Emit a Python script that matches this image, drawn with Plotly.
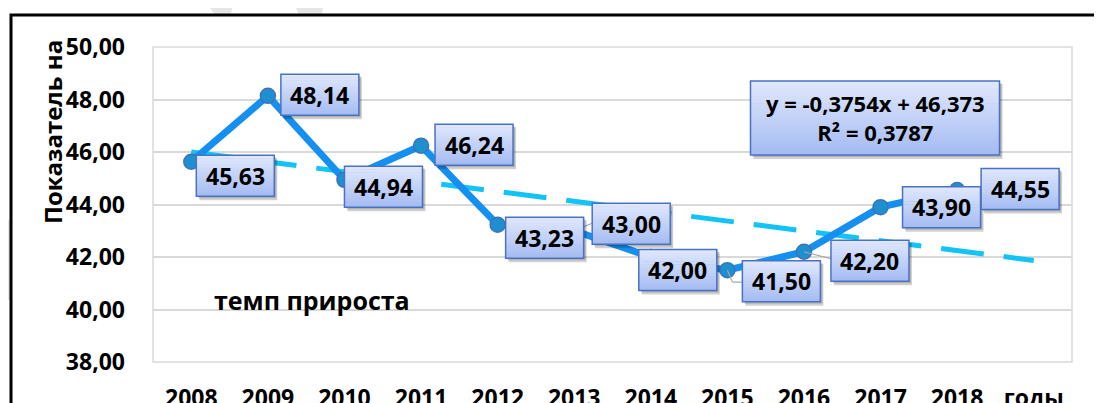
import plotly.graph_objects as go

# ---------------- data ----------------
years = ["2008", "2009", "2010", "2011", "2012", "2013", "2014", "2015", "2016", "2017", "2018"]
extra_category = "годы"
values = [45.63, 48.14, 44.94, 46.24, 43.23, 43.00, 42.00, 41.50, 42.20, 43.90, 44.55]
trend_slope = -0.3754
trend_intercept = 46.373
r_squared = 0.3787
y_ticks = [38, 40, 42, 44, 46, 48, 50]
y_title = "Показатель на"
series_name = "темп прироста"

# ---------------- styles / layout (pixels) ----------------
W, H = 1102, 403
PL, PR, PT, PB = 153, 1072, 47, 362  # plot area in screenshot pixels
BODY = 8  # page body margin added by the html page
FONT = "Open Sans"

# label box centre offsets from their point (dx right, dy down), pixels
label_offsets = [(44, 14), (52, -1), (39, 7), (53, -1), (47, 13), (57, -7),
                 (27, 13), (54, 11), (66, 9), (61, 0), (63, -1)]
BOX_W, BOX_H = 78, 41


def px_x(p):
    return (p - PL) / (PR - PL)


def px_y(p):
    return (PB - p) / (PB - PT)


def fmt(v, n=2):
    return f"{v:.{n}f}".replace(".", ",")


def lerp_col(c1, c2, t):
    return "rgb(%d,%d,%d)" % tuple(round(a + (b - a) * t) for a, b in zip(c1, c2))


TOP_C = (224, 232, 252)
BOT_C = (164, 187, 242)
BORDER_C = "#4a72c4"

categories = years + [extra_category]
trend_x = categories
trend_y = [trend_slope * (i + 1) + trend_intercept for i in range(len(categories))]

fig = go.Figure()

fig.add_trace(go.Scatter(
    x=trend_x, y=trend_y, mode="lines",
    line=dict(color="#12c3f5", width=5, dash="43px,20px"),
    showlegend=False, hoverinfo="skip"))

fig.add_trace(go.Scatter(
    x=years, y=values, mode="lines+markers", name=series_name,
    line=dict(color="#1590f0", width=7),
    marker=dict(size=15, color="#1f90cf", line=dict(color="#3f72bd", width=1.5)),
    showlegend=False))

shapes = []
annotations = []

# watermark fragments & outer frame (decorative)
wm = "#e6e6e6"
for pts in ([(205, 0), (234, 0), (231, 14), (214, 14)],
            [(294, 0), (324, 0), (322, 14), (298, 14)],
            [(0, 205), (10, 222), (10, 300), (0, 300)]):
    path = "M " + " L ".join(f"{px_x(a)} {px_y(b)}" for a, b in pts) + " Z"
    shapes.append(dict(type="path", xref="paper", yref="paper", layer="below",
                       path=path, fillcolor=wm, line=dict(width=0)))
shapes.append(dict(type="rect", xref="paper", yref="paper", layer="below",
                   x0=px_x(11), x1=px_x(1130), y0=px_y(430), y1=px_y(15),
                   fillcolor="white", line=dict(color="black", width=3)))
# plot area border
shapes.append(dict(type="rect", xref="paper", yref="paper", layer="below",
                   x0=0, x1=1, y0=0, y1=1, line=dict(color="#d9d9d9", width=1.5)))

# leader lines (pixel offsets from the point)
leaders = {5: [(0, 0), (19, -8)], 7: [(0, 0), (5, 12), (16, 12)], 8: [(0, 0), (27, 7)]}
for i, pts in leaders.items():
    for (a, b), (c, d) in zip(pts[:-1], pts[1:]):
        shapes.append(dict(type="line", xref="x", yref="y", layer="above",
                           xsizemode="pixel", ysizemode="pixel",
                           xanchor=i, yanchor=values[i],
                           x0=a, x1=c, y0=-b, y1=-d,
                           line=dict(color="#a6a6a6", width=1.2)))


def gradient_box(add, cx, cy, w, h, n=14):
    add(cx - w / 2 + 3, cx + w / 2 + 3, cy - h / 2 + 3, cy + h / 2 + 4, "rgba(0,0,0,0.18)", None)
    add(cx - w / 2 + 2, cx + w / 2 + 2, cy - h / 2 + 2, cy + h / 2 + 2, "rgba(0,0,0,0.15)", None)
    for k in range(n):
        t0 = cy - h / 2 + h * k / n
        t1 = cy - h / 2 + h * (k + 1) / n + 0.6
        add(cx - w / 2, cx + w / 2, t0, min(t1, cy + h / 2), lerp_col(TOP_C, BOT_C, (k + 0.5) / n), None)
    add(cx - w / 2, cx + w / 2, cy - h / 2, cy + h / 2, "rgba(0,0,0,0)", BORDER_C)


for i, v in enumerate(values):
    dx, dy = label_offsets[i]

    def add(x0, x1, y0, y1, fill, border, i=i, v=v):
        shapes.append(dict(type="rect", xref="x", yref="y", layer="above",
                           xsizemode="pixel", ysizemode="pixel",
                           xanchor=i, yanchor=v,
                           x0=x0, x1=x1, y0=-y1, y1=-y0,
                           fillcolor=fill,
                           line=dict(color=border, width=1.5) if border else dict(width=0)))
    gradient_box(add, dx, dy, BOX_W, BOX_H)
    annotations.append(dict(x=i, y=v, xref="x", yref="y", xshift=dx, yshift=-dy,
                            xanchor="center", yanchor="middle",
                            text=fmt(v), showarrow=False,
                            font=dict(family=FONT, size=23, color="black", weight="bold")))

# equation box (paper)
EQ_CX, EQ_CY, EQ_W, EQ_H = 875, 118, 249, 74


def add_eq(x0, x1, y0, y1, fill, border):
    shapes.append(dict(type="rect", xref="paper", yref="paper", layer="above",
                       x0=px_x(x0), x1=px_x(x1), y0=px_y(y1), y1=px_y(y0),
                       fillcolor=fill,
                       line=dict(color=border, width=1.5) if border else dict(width=0)))


gradient_box(add_eq, EQ_CX, EQ_CY, EQ_W, EQ_H, n=20)
sign = "-" if trend_slope < 0 else ""
eq_text = (f"y = {sign}{fmt(abs(trend_slope), 4)}x + {fmt(trend_intercept, 3)}"
           f"<br>R² = {fmt(r_squared, 4)}")
annotations.append(dict(x=px_x(EQ_CX), y=px_y(EQ_CY), xref="paper", yref="paper",
                        xanchor="center", yanchor="middle",
                        text=eq_text, showarrow=False, align="center",
                        font=dict(family=FONT, size=22, color="black", weight="bold")))

# series name text
annotations.append(dict(x=px_x(312), y=px_y(300), xref="paper", yref="paper",
                        xanchor="center", yanchor="middle",
                        text=series_name, showarrow=False,
                        font=dict(family=FONT, size=25, color="black", weight="bold")))
# y-axis title
annotations.append(dict(x=px_x(52), y=px_y(132), xref="paper", yref="paper",
                        xanchor="center", yanchor="middle",
                        text=y_title, showarrow=False, textangle=-90,
                        font=dict(family=FONT, size=24, color="black", weight="bold")))

fig.update_layout(
    width=W, height=H,
    margin=dict(l=PL - BODY, r=W - PR + BODY, t=PT - BODY, b=H - PB + BODY,
                pad=0, autoexpand=False),
    paper_bgcolor="white", plot_bgcolor="white",
    separators=", ",
    shapes=shapes, annotations=annotations,
    showlegend=False,
    xaxis=dict(type="category", categoryorder="array", categoryarray=categories,
               tickvals=categories, ticktext=categories,
               range=[-0.5, len(categories) - 0.5], automargin=False,
               showgrid=False, zeroline=False, showline=False, ticks="",
               ticklabelstandoff=20,
               tickfont=dict(family=FONT, size=23, color="black", weight="bold")),
    yaxis=dict(range=[38, 50], tickvals=y_ticks, tickformat=".2f", automargin=False,
               showgrid=True, gridcolor="#d9d9d9", gridwidth=1.5,
               zeroline=False, showline=False, ticks="",
               ticklabelstandoff=27,
               tickfont=dict(family=FONT, size=23, color="black", weight="bold")),
)

fig.write_html("out.html")
